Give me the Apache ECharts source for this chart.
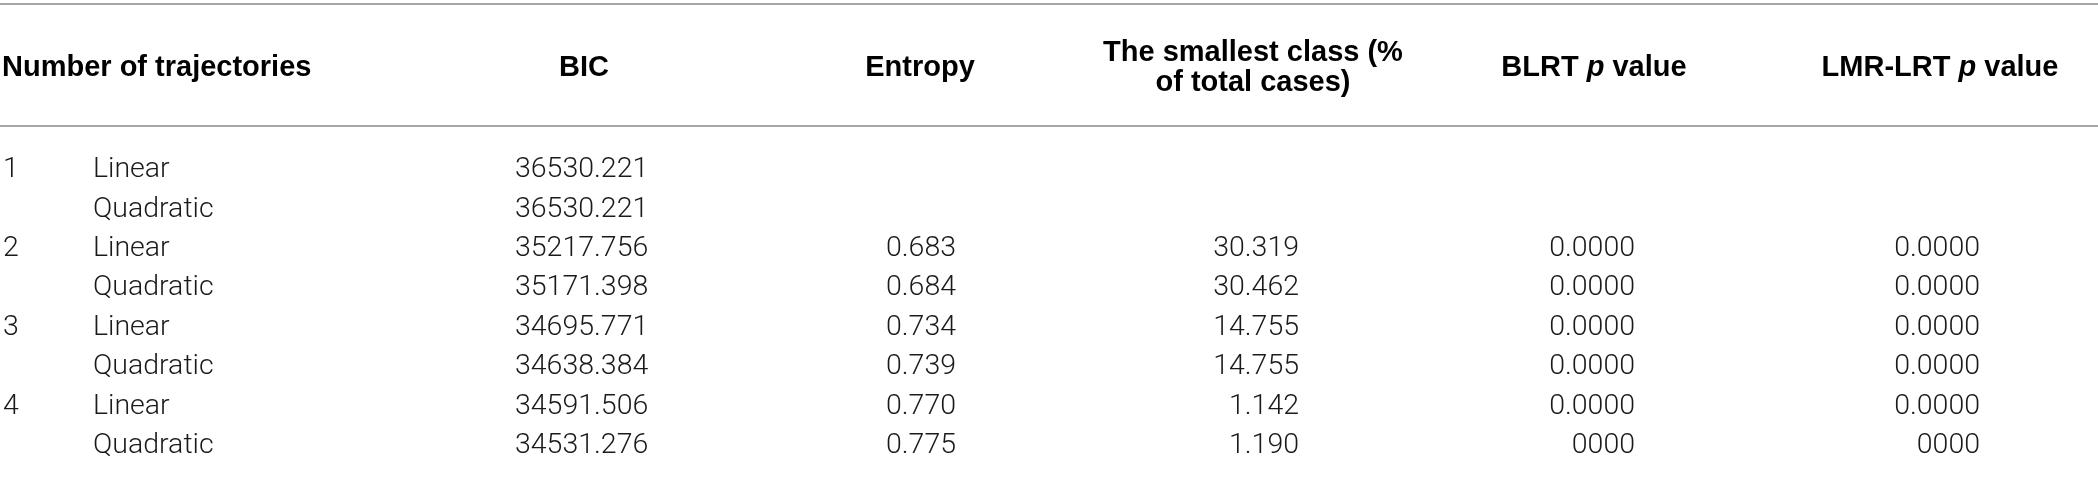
<!DOCTYPE html>
<html lang="en">
<head>
    <meta charset="UTF-8">
    <title>Model fit of trajectory classes</title>
    <script src="https://cdn.jsdelivr.net/npm/echarts@6.0.0/dist/echarts.min.js"></script>
    <style>
        html, body { margin: 0; padding: 0; background: #fff; }
    </style>
</head>
<body>
    <div id="table" style="width: 2098px;height: 500px"></div>
    <script type="text/javascript">
        // table content
        var headers = ['Number of trajectories', 'BIC', 'Entropy', 'The smallest class (%\nof total cases)', 'BLRT p value', 'LMR-LRT p value'];
        var classCounts = ['1', '', '2', '', '3', '', '4', ''];
        var models = ['Linear', 'Quadratic', 'Linear', 'Quadratic', 'Linear', 'Quadratic', 'Linear', 'Quadratic'];
        var bic = [36530.221, 36530.221, 35217.756, 35171.398, 34695.771, 34638.384, 34591.506, 34531.276];
        var entropy = [null, null, 0.683, 0.684, 0.734, 0.739, 0.770, 0.775];
        var smallestClass = [null, null, 30.319, 30.462, 14.755, 14.755, 1.142, 1.190];
        var blrtP = ['', '', '0.0000', '0.0000', '0.0000', '0.0000', '0.0000', '0000'];
        var lmrP = ['', '', '0.0000', '0.0000', '0.0000', '0.0000', '0.0000', '0000'];

        // layout: column anchors on the x axis (px), rows on the y axis (row index)
        var columns = [
            { x: 3, align: 'left' },      // class count
            { x: 93, align: 'left' },     // model
            { x: 515, align: 'left' },    // BIC
            { x: 956, align: 'right' },   // entropy
            { x: 1299, align: 'right' },  // smallest class
            { x: 1635, align: 'right' },  // BLRT
            { x: 1980, align: 'right' }   // LMR-LRT
        ];
        var headerCols = [
            { x: 2, align: 'left' },
            { x: 584, align: 'center' },
            { x: 920, align: 'center' },
            { x: 1253, align: 'center' },
            { x: 1594, align: 'center' },
            { x: 1940, align: 'center' }
        ];
        var headerRow = -1.6;
        var ruleRows = [-3.21, -0.125];

        function fmt(v) {
            return v === null ? '' : v.toFixed(3);
        }

        var body = [classCounts, models, bic.map(fmt), entropy.map(fmt), smallestClass.map(fmt), blrtP, lmrP];

        var cells = [];
        headers.forEach(function (h, i) {
            // italic p in the p value headers
            var text = h.replace(/ p /, ' }{i|p}{b| ');
            cells.push({ x: headerCols[i].x, y: headerRow, align: headerCols[i].align, text: '{b|' + text + '}', head: true });
        });
        body.forEach(function (col, c) {
            col.forEach(function (t, r) {
                if (t !== '') {
                    cells.push({ x: columns[c].x, y: r + 1, align: columns[c].align, text: t, head: false });
                }
            });
        });

        var myChart = echarts.init(document.getElementById('table'));
        myChart.setOption({
            animation: false,
            backgroundColor: '#fff',
            grid: { left: 0, right: 0, top: 0, bottom: 0 },
            xAxis: { type: 'value', min: 0, max: 2098, show: false },
            yAxis: { type: 'value', inverse: true, min: -3.315, max: 9.375, show: false },
            series: [
                {
                    type: 'custom',
                    silent: true,
                    clip: false,
                    data: cells.map(function (c) { return [c.x, c.y]; }),
                    renderItem: function (params, api) {
                        var cell = cells[params.dataIndex];
                        var p = api.coord([api.value(0), api.value(1)]);
                        var style;
                        if (cell.head) {
                            style = {
                                text: cell.text,
                                rich: {
                                    b: { fontFamily: 'Liberation Sans', fontWeight: 'bold', fontSize: 29, lineHeight: 30, fill: '#000' },
                                    i: { fontFamily: 'Liberation Sans', fontWeight: 'bold', fontStyle: 'italic', fontSize: 29, lineHeight: 30, fill: '#000' }
                                }
                            };
                        } else {
                            style = {
                                text: cell.text,
                                fontFamily: 'Roboto',
                                fontWeight: 300,
                                fontSize: 28.5,
                                fill: '#1a1a1a'
                            };
                        }
                        style.align = cell.align;
                        style.textAlign = cell.align;
                        style.verticalAlign = 'middle';
                        style.textVerticalAlign = 'middle';
                        return { type: 'text', x: p[0], y: p[1], style: style };
                    }
                },
                {
                    type: 'scatter',
                    silent: true,
                    data: [],
                    markLine: {
                        silent: true,
                        symbol: ['none', 'none'],
                        label: { show: false },
                        lineStyle: { color: '#8a8a8a', width: 1.5, type: 'solid' },
                        data: ruleRows.map(function (r) { return { yAxis: r }; })
                    }
                }
            ]
        });
    </script>
</body>
</html>
